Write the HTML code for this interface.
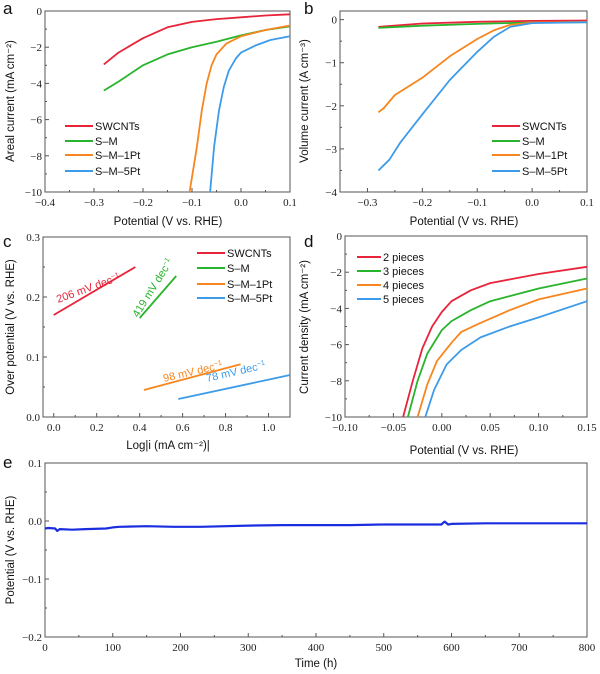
<!DOCTYPE html>
<html><head><meta charset="utf-8"><style>
html,body{margin:0;padding:0;background:#fff;}
svg{display:block;}
.tk{font-family:"Liberation Serif",serif;font-size:11px;fill:#222;}
.ti{font-family:"Liberation Sans",sans-serif;font-size:11.5px;fill:#111;}
.lg{font-family:"Liberation Sans",sans-serif;font-size:11px;fill:#111;}
.pl{font-family:"Liberation Sans",sans-serif;font-size:17px;fill:#111;}
</style></head><body>
<svg id="fig" width="600" height="674" viewBox="0 0 600 674" xmlns="http://www.w3.org/2000/svg"></svg>
<script>
// ---- panel a data ----
const aSWx=[-0.28,-0.25,-0.2,-0.15,-0.1,-0.05,0,0.05,0.1];
const aSWy=[-2.95,-2.3,-1.5,-0.9,-0.6,-0.45,-0.35,-0.25,-0.18];
const aSMx=[-0.28,-0.25,-0.2,-0.15,-0.1,-0.05,0,0.05,0.1];
const aSMy=[-4.4,-3.9,-3.0,-2.4,-2.0,-1.7,-1.35,-1.05,-0.85];
const a1Px=[-0.105,-0.09,-0.08,-0.07,-0.06,-0.05,-0.03,0,0.05,0.1];
const a1Py=[-10,-7.5,-5.5,-4,-3,-2.4,-1.8,-1.4,-1.05,-0.8];
const a5Px=[-0.063,-0.055,-0.045,-0.035,-0.025,-0.01,0,0.03,0.06,0.1];
const a5Py=[-10,-7.5,-5.5,-4.2,-3.3,-2.6,-2.3,-1.9,-1.6,-1.4];
// ---- panel b data ----
const bSWx=[-0.28,-0.2,-0.1,0,0.1];
const bSWy=[-0.17,-0.09,-0.05,-0.03,-0.02];
const bSMx=[-0.28,-0.2,-0.1,-0.05,0,0.1];
const bSMy=[-0.19,-0.14,-0.1,-0.08,-0.07,-0.06];
const b1Px=[-0.28,-0.27,-0.25,-0.2,-0.15,-0.1,-0.07,-0.04,0,0.1];
const b1Py=[-2.15,-2.05,-1.75,-1.35,-0.85,-0.45,-0.25,-0.12,-0.07,-0.05];
const b5Px=[-0.28,-0.26,-0.24,-0.2,-0.15,-0.1,-0.07,-0.04,0,0.1];
const b5Py=[-3.5,-3.25,-2.85,-2.2,-1.4,-0.75,-0.4,-0.17,-0.08,-0.06];
// ---- panel c data (Tafel) ----
const cSWx=[0,0.38], cSWy=[0.17,0.25];
const cSMx=[0.4,0.57], cSMy=[0.165,0.235];
const c1Px=[0.42,0.87], c1Py=[0.045,0.088];
const c5Px=[0.58,1.1], c5Py=[0.03,0.07];
const cSlopes=["206","419","98","78"];
// ---- panel d data ----
const d2x=[-0.04,-0.03,-0.02,-0.01,0,0.01,0.03,0.05,0.1,0.15];
const d2y=[-10,-8,-6.2,-5,-4.2,-3.6,-3,-2.6,-2.1,-1.7];
const d3x=[-0.035,-0.025,-0.015,0,0.01,0.03,0.05,0.1,0.15];
const d3y=[-10,-8,-6.5,-5.2,-4.7,-4.1,-3.6,-2.9,-2.35];
const d4x=[-0.025,-0.015,-0.005,0.01,0.02,0.04,0.07,0.1,0.15];
const d4y=[-10,-8.2,-6.9,-5.9,-5.3,-4.8,-4.1,-3.5,-2.9];
const d5x=[-0.017,-0.008,0.005,0.02,0.04,0.07,0.1,0.15];
const d5y=[-10,-8.5,-7.1,-6.3,-5.6,-5,-4.5,-3.6];
// ---- panel e data ----
const eT=[0,5,15,18,22,40,60,90,100,110,150,190,230,300,350,400,450,500,550,585,590,595,600,650,700,760,800];
const eV=[-0.013,-0.012,-0.013,-0.017,-0.014,-0.015,-0.014,-0.013,-0.011,-0.010,-0.009,-0.010,-0.010,-0.008,-0.007,-0.007,-0.007,-0.006,-0.006,-0.006,-0.001,-0.006,-0.005,-0.004,-0.004,-0.004,-0.004];

const NS="http://www.w3.org/2000/svg";
const svg=document.getElementById('fig');
function el(tag,attrs,parent){const e=document.createElementNS(NS,tag);for(const k in attrs)e.setAttribute(k,attrs[k]);(parent||svg).appendChild(e);return e;}
function txt(s,x,y,cls,parent,extra){const t=el('text',Object.assign({x:x,y:y,class:cls},extra||{}),parent);t.textContent=s;return t;}

function axes(name,L,R,T,B,xmin,xmax,ymin,ymax,xt,yt,xdec,ydec){
  const g=el('g',{});
  
  
  const sx=v=>L+(v-xmin)/(xmax-xmin)*(R-L);
  const sy=v=>B-(v-ymin)/(ymax-ymin)*(B-T);
  el('rect',{x:L,y:T,width:R-L,height:B-T,fill:'none',stroke:'#555','stroke-width':1},g);
  const fmt=(v,d)=>{let s=v.toFixed(d);if(v<-1e-9)s='\u2212'+s.slice(1);if(Math.abs(v)<1e-9)s=(0).toFixed(d);return s;};
  xt.forEach(v=>{const x=sx(v);el('line',{x1:x,y1:B,x2:x,y2:B-4,stroke:'#555'},g);
    const t=txt(fmt(v,xdec),x,B+14,'tk',g,{'text-anchor':'middle'});
    });
  for(let i=0;i<xt.length-1;i++){const x=sx((xt[i]+xt[i+1])/2);el('line',{x1:x,y1:B,x2:x,y2:B-2,stroke:'#555'},g);}
  yt.forEach(v=>{const y=sy(v);el('line',{x1:L,y1:y,x2:L+4,y2:y,stroke:'#555'},g);
    const t=txt(fmt(v,ydec),L-3,y+4,'tk',g,{'text-anchor':'end'});
    });
  for(let i=0;i<yt.length-1;i++){const y=sy((yt[i]+yt[i+1])/2);el('line',{x1:L,y1:y,x2:L+2,y2:y,stroke:'#555'},g);}
  return {sx,sy,g};
}
function series(ax,xs,ys,color,name,w){
  const d=xs.map((x,i)=>(i?'L':'M')+ax.sx(x).toFixed(1)+','+ax.sy(ys[i]).toFixed(1)).join('');
  const p=el('path',{d:d,fill:'none',stroke:color,'stroke-width':w||1.8,'stroke-linejoin':'round'});
  
  
}
function legend(x,ys,labels,colors,len,name){
  const g=el('g',{});
  
  
  labels.forEach((l,i)=>{el('line',{x1:x,y1:ys[i],x2:x+len,y2:ys[i],stroke:colors[i],'stroke-width':2},g);
    const t=txt(l,x+len+2,ys[i]+4,'lg',g);
    });
}
function ylab(s,x,y,name){const t=txt(s,x,y,'ti',null,{'text-anchor':'middle',transform:'rotate(-90 '+x+' '+y+')'});return t;}
function xlab(s,x,y,name){const t=txt(s,x,y,'ti',null,{'text-anchor':'middle'});return t;}
function plabel(s,x,y){const t=txt(s,x,y,'pl');}
const C=['#e8243a','#28b42c','#f7861f','#3d9be9'];
const N4=['SWCNTs','S\u2013M','S\u2013M\u20131Pt','S\u2013M\u20135Pt'];

// panel a
const A=axes('panel-a',45,290,11,192,-0.4,0.1,-10,0,[-0.4,-0.3,-0.2,-0.1,0,0.1],[-10,-8,-6,-4,-2,0],1,0);
series(A,aSWx,aSWy,C[0],'a-swcnts-line');series(A,aSMx,aSMy,C[1],'a-sm-line');
series(A,a1Px,a1Py,C[2],'a-sm1pt-line');series(A,a5Px,a5Py,C[3],'a-sm5pt-line');
legend(65,[126,141,155,171],N4,C,28,'a-legend');
ylab('Areal current (mA cm\u207B\u00B2)',14,101,'a-y-axis-title');
xlab('Potential (V vs. RHE)',168,225,'a-x-axis-title');
plabel('a',3,14);

// panel b
const Bx=axes('panel-b',340,587,11,192,-0.35,0.1,-4,0.2,[-0.3,-0.2,-0.1,0,0.1],[-4,-3,-2,-1,0],1,0);
series(Bx,bSWx,bSWy,C[0],'b-swcnts-line');series(Bx,bSMx,bSMy,C[1],'b-sm-line');
series(Bx,b1Px,b1Py,C[2],'b-sm1pt-line');series(Bx,b5Px,b5Py,C[3],'b-sm5pt-line');
legend(492,[126,141,155,171],N4,C,28,'b-legend');
ylab('Volume current (A cm\u207B\u00B3)',308,101,'b-y-axis-title');
xlab('Potential (V vs. RHE)',464,225,'b-x-axis-title');
plabel('b',304,14);

// panel c
const Cx=axes('panel-c',43,290,237,417,-0.05,1.1,0,0.3,[0,0.2,0.4,0.6,0.8,1.0],[0,0.1,0.2,0.3],1,1);
series(Cx,cSWx,cSWy,C[0],'c-swcnts-line');series(Cx,cSMx,cSMy,C[1],'c-sm-line');
series(Cx,c1Px,c1Py,C[2],'c-sm1pt-line');series(Cx,c5Px,c5Py,C[3],'c-sm5pt-line');
legend(197,[253,268,284,298],N4,C,28,'c-legend');
ylab('Over potential (V vs. RHE)',14,327,'c-y-axis-title');
xlab('Log|i (mA cm\u207B\u00B2)|',168,449,'c-x-axis-title');
plabel('c',3,247);
function slopeLabel(s,x,y,ang,col,name){const t=el('text',{x:x,y:y,class:'lg',fill:col,style:'fill:'+col,transform:'rotate('+ang+' '+x+' '+y+')'});
  t.textContent=s+' mV dec';const sp=el('tspan',{dy:-4,'font-size':'7'},t);sp.textContent='\u22121';
  }
slopeLabel(cSlopes[0],58,303,-20,C[0],'c-slope-swcnts');
slopeLabel(cSlopes[1],138,318,-58,C[1],'c-slope-sm');
slopeLabel(cSlopes[2],164,382,-13,C[2],'c-slope-sm1pt');
slopeLabel(cSlopes[3],207,382,-13,C[3],'c-slope-sm5pt');

// panel d
const D=axes('panel-d',345,587,236,417,-0.1,0.15,-10,0,[-0.1,-0.05,0,0.05,0.1,0.15],[-10,-8,-6,-4,-2,0],2,0);
series(D,d2x,d2y,C[0],'d-2pieces-line');series(D,d3x,d3y,C[1],'d-3pieces-line');
series(D,d4x,d4y,C[2],'d-4pieces-line');series(D,d5x,d5y,C[3],'d-5pieces-line');
legend(357,[257,271,285,299],['2 pieces','3 pieces','4 pieces','5 pieces'],C,24,'d-legend');
ylab('Current density (mA cm\u207B\u00B2)',308,327,'d-y-axis-title');
xlab('Potential (V vs. RHE)',464,454,'d-x-axis-title');
plabel('d',304,247);

// panel e
const E=axes('panel-e',45,587,463,637,0,800,-0.2,0.1,[0,100,200,300,400,500,600,700,800],[-0.2,-0.1,0,0.1],0,1);
series(E,eT,eV,'#1a2ee0','e-potential-line',2.2);
ylab('Potential (V vs. RHE)',14,550,'e-y-axis-title');
xlab('Time (h)',316,667,'e-x-axis-title');
plabel('e',3,468);
</script>
</body></html>
